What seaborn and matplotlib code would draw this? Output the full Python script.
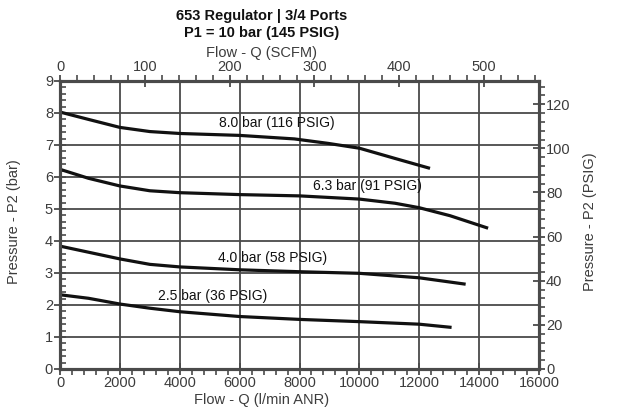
import matplotlib
matplotlib.use("Agg")
import matplotlib.pyplot as plt
import seaborn as sns
import pandas as pd
from matplotlib.ticker import MultipleLocator

# ---- data (flow in l/min ANR, pressure in bar) ----
flow_80 = [0, 950, 2000, 3000, 4000, 6000, 7830, 8960, 10000, 11190, 12360]
p2_80 = [8.03, 7.80, 7.55, 7.42, 7.36, 7.30, 7.19, 7.05, 6.90, 6.58, 6.27]

flow_63 = [0, 950, 2000, 3000, 4000, 6000, 8000, 10000, 11190, 12000, 13030, 14300]
p2_63 = [6.24, 5.96, 5.72, 5.57, 5.51, 5.45, 5.41, 5.31, 5.18, 5.04, 4.79, 4.40]

flow_40 = [0, 950, 2000, 3000, 4000, 6000, 8000, 10000, 12000, 13550]
p2_40 = [3.84, 3.65, 3.44, 3.27, 3.19, 3.10, 3.04, 2.99, 2.85, 2.65]

flow_25 = [0, 950, 2000, 3000, 4000, 6000, 8000, 10000, 12000, 13080]
p2_25 = [2.32, 2.21, 2.03, 1.90, 1.79, 1.64, 1.55, 1.48, 1.40, 1.30]

curve_names = ["8.0 bar (116 PSIG)", "6.3 bar (91 PSIG)", "4.0 bar (58 PSIG)", "2.5 bar (36 PSIG)"]
label_flow = [7230, 10270, 7100, 5100]
label_p2 = [7.68, 5.72, 3.46, 2.29]

title_lines = ["653 Regulator | 3/4 Ports", "P1 = 10 bar (145 PSIG)"]
xticks_lmin = [0, 2000, 4000, 6000, 8000, 10000, 12000, 14000, 16000]
yticks_bar = [0, 1, 2, 3, 4, 5, 6, 7, 8, 9]
xticks_scfm = [0, 100, 200, 300, 400, 500]
yticks_psig = [0, 20, 40, 60, 80, 100, 120]

LMIN_PER_SCFM = 28.3168
PSI_PER_BAR = 14.5038

frames = []
for name, f, p in zip(curve_names, [flow_80, flow_63, flow_40, flow_25],
                      [p2_80, p2_63, p2_40, p2_25]):
    frames.append(pd.DataFrame({"flow": f, "p2": p, "curve": name}))
df = pd.concat(frames, ignore_index=True)

sns.set_style("white")
plt.rcParams["font.family"] = ["Liberation Sans", "DejaVu Sans"]

fig = plt.figure(figsize=(6.28, 4.07), dpi=100)
ax = fig.add_axes([60 / 628, 1 - 369 / 407, 479 / 628, 288 / 407])

sns.lineplot(data=df, x="flow", y="p2", hue="curve", units="curve", estimator=None,
             palette=["#111111"] * 4, linewidth=2.3, legend=False, ax=ax, zorder=3)
for ln in ax.lines:
    ln.set_solid_joinstyle("round")
    ln.set_solid_capstyle("butt")

for name, xf, yp in zip(curve_names, label_flow, label_p2):
    ax.text(xf, yp, name, fontsize=10, color="#111111", ha="center", va="center", zorder=4)

gcol = "#4a4a4a"
tcol = "#3c3c3c"
ax.set_xlim(0, 16000)
ax.set_ylim(0, 9)
ax.set_xticks(xticks_lmin)
ax.set_yticks(yticks_bar)
ax.xaxis.set_minor_locator(MultipleLocator(400))
ax.yaxis.set_minor_locator(MultipleLocator(0.2))
ax.grid(True, which="major", color=gcol, linewidth=1.3)
ax.set_axisbelow(True)
for s in ax.spines.values():
    s.set_color(gcol)
    s.set_linewidth(2.2)
ax.tick_params(axis="both", which="major", direction="inout", length=8, width=1.3,
               color=gcol, labelsize=10.5, labelcolor=tcol, pad=1)
ax.tick_params(axis="x", which="minor", direction="out", length=4, width=1.2, color=gcol, bottom=True)
ax.tick_params(axis="y", which="minor", direction="in", length=4, width=1.2, color=gcol, left=True)
ax.set_xlabel("Flow - Q (l/min ANR)", fontsize=10.5, color=tcol, labelpad=0)
ax.set_ylabel("Pressure - P2 (bar)", fontsize=10.5, color=tcol)
ax.xaxis.set_label_coords((262 - 60) / 479, -0.085)
ax.yaxis.set_label_coords((21 - 60) / 479, 0.51)

# right axis: PSIG
ax2 = ax.twinx()
ax2.set_ylim(0, 9 * PSI_PER_BAR)
ax2.set_yticks(yticks_psig)
ax2.yaxis.set_minor_locator(MultipleLocator(4))
ax2.tick_params(axis="y", which="major", direction="inout", length=8, width=1.3,
                color=gcol, labelsize=10.5, labelcolor=tcol, pad=1)
ax2.tick_params(axis="y", which="minor", direction="out", length=4, width=1.2, color=gcol)
ax2.set_ylabel("Pressure - P2 (PSIG)", fontsize=10.5, color=tcol)
ax2.yaxis.set_label_coords((583 - 60) / 479, 0.51)
for s in ax2.spines.values():
    s.set_color(gcol)
    s.set_linewidth(2.2)
ax2.grid(False)

# top axis: SCFM
ax3 = ax.twiny()
ax3.set_xlim(0, 16000 / LMIN_PER_SCFM)
ax3.set_xticks(xticks_scfm)
ax3.xaxis.set_minor_locator(MultipleLocator(20))
ax3.tick_params(axis="x", which="major", direction="inout", length=8, width=1.3,
                color=gcol, labelsize=10.5, labelcolor=tcol, pad=1)
ax3.tick_params(axis="x", which="minor", direction="out", length=4, width=1.2, color=gcol)
ax3.set_xlabel("Flow - Q (SCFM)", fontsize=10.5, color=tcol, labelpad=1)
ax3.xaxis.set_label_coords((262 - 60) / 479, 1.085)
ax3.grid(False)
for s in ax3.spines.values():
    s.set_color(gcol)
    s.set_linewidth(2.2)

fig.text(262 / 628, 1 - 16 / 407, title_lines[0], ha="center", va="center",
         fontsize=10.5, fontweight="bold", color="#111111")
fig.text(262 / 628, 1 - 33 / 407, title_lines[1], ha="center", va="center",
         fontsize=10.5, fontweight="bold", color="#111111")

fig.savefig("out.png", dpi=100)
